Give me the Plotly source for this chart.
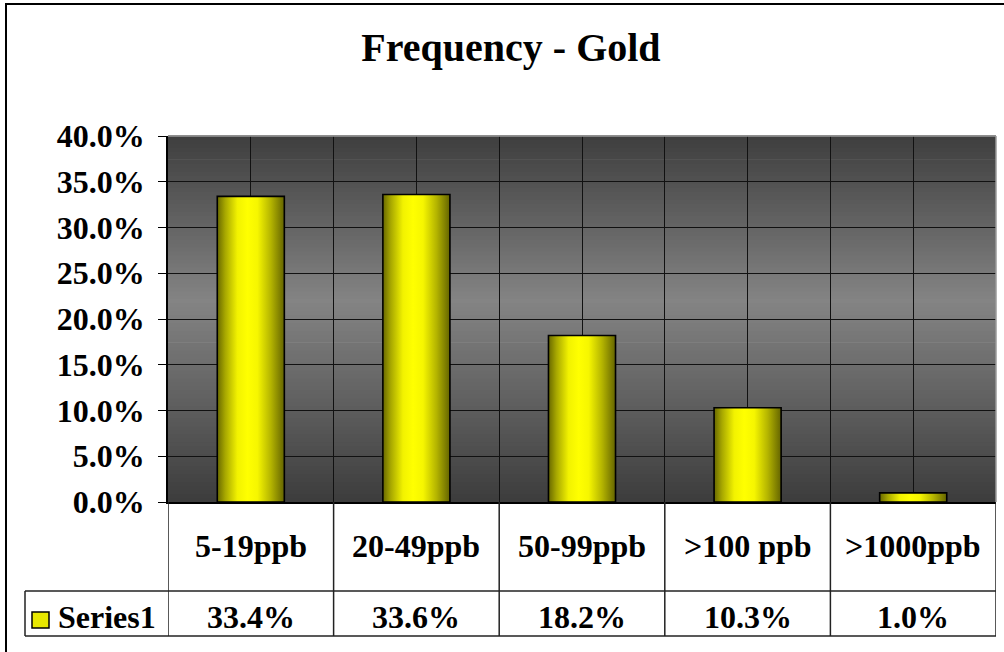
import plotly.graph_objects as go

# Frequency distribution of gold assays by grade class
categories = ["5-19ppb", "20-49ppb", "50-99ppb", ">100 ppb", ">1000ppb"]
values_pct = [33.4, 33.6, 18.2, 10.3, 1.0]
series_name = "Series1"
title_text = "Frequency - Gold"

FONT = "'Liberation Serif', 'DejaVu Serif', 'Times New Roman', serif"
W, H = 1004, 652
L, R, T, B = 168, 996, 136, 502   # plot area edges in pixels


def px(x):
    return (x - L) / (R - L)


def py(y):
    return (B - y) / (B - T)


fig = go.Figure()

# bars: filled polygons with a horizontal metallic gradient
bar_half = 0.2025
bar_scale = [[0.0, "#686800"], [0.12, "#a8a800"], [0.3, "#f2f200"],
             [0.45, "#ffff00"], [0.6, "#f6f600"], [0.8, "#b4b400"],
             [1.0, "#646400"]]
for i, v in enumerate(values_pct):
    h = v / 100.0
    fig.add_trace(go.Scatter(
        x=[i - bar_half, i + bar_half, i + bar_half, i - bar_half, i - bar_half],
        y=[0, 0, h, h, 0],
        mode="lines", fill="toself",
        fillgradient=dict(type="horizontal", colorscale=bar_scale),
        line=dict(color="black", width=1.6),
        showlegend=False, hoverinfo="skip",
    ))

shapes = []

# plot area background: vertical grey gradient built from thin bands
stops = [(0.0, 60), (0.55, 132), (1.0, 62)]


def grey_at(f):
    for (f0, g0), (f1, g1) in zip(stops[:-1], stops[1:]):
        if f0 <= f <= f1:
            t = (f - f0) / (f1 - f0)
            return round(g0 + (g1 - g0) * t)
    return stops[-1][1]


nb = 92
for k in range(nb):
    f0, f1 = k / nb, (k + 1) / nb
    g = grey_at((f0 + f1) / 2)
    shapes.append(dict(type="rect", xref="paper", yref="paper",
                       x0=0, x1=1, y0=f0, y1=f1 + 0.002, layer="below",
                       line=dict(width=0), fillcolor=f"rgb({g},{g},{g})"))

# light border on top/right of plot area
shapes.append(dict(type="line", xref="paper", yref="paper", x0=0, x1=1, y0=1, y1=1,
                   line=dict(color="#9a9a9a", width=1.5), layer="above"))
shapes.append(dict(type="line", xref="paper", yref="paper", x0=1, x1=1, y0=0, y1=1,
                   line=dict(color="#9a9a9a", width=1.5), layer="above"))

# data table grid
tbl_line = dict(color="#222222", width=1.5)
row1_y = py(591)
row2_y = py(636)
left_x = px(25)
for yy in (row1_y, row2_y):
    shapes.append(dict(type="line", xref="paper", yref="paper",
                       x0=left_x, x1=1, y0=yy, y1=yy, line=tbl_line))
shapes.append(dict(type="line", xref="paper", yref="paper",
                   x0=left_x, x1=left_x, y0=row1_y, y1=row2_y, line=tbl_line))
for b in range(len(categories) + 1):
    shapes.append(dict(type="line", xref="x", yref="paper",
                       x0=b - 0.5, x1=b - 0.5, y0=0, y1=row2_y, line=tbl_line))

# legend key in table
shapes.append(dict(type="rect", xref="paper", yref="paper",
                   x0=px(32), x1=px(49), y0=py(628), y1=py(612),
                   fillcolor="#e8e800", line=dict(color="black", width=1.5)))

# outer chart border
shapes.append(dict(type="rect", xref="paper", yref="paper",
                   x0=px(6), x1=px(1012), y0=py(660), y1=py(4),
                   line=dict(color="black", width=2)))

annotations = []
tfont = dict(family=FONT, size=32, color="black", weight="bold")
for i, c in enumerate(categories):
    annotations.append(dict(x=i, xref="x", y=py(546), yref="paper", text=c,
                            showarrow=False, font=tfont,
                            xanchor="center", yanchor="middle"))
for i, v in enumerate(values_pct):
    annotations.append(dict(x=i, xref="x", y=py(617), yref="paper", text=f"{v:.1f}%",
                            showarrow=False, font=tfont,
                            xanchor="center", yanchor="middle"))
annotations.append(dict(x=px(56), xref="paper", y=py(617), yref="paper", text=series_name,
                        showarrow=False, font=tfont, xanchor="left", yanchor="middle"))

fig.update_layout(
    width=W, height=H,
    margin=dict(l=L, r=W - R, t=T, b=H - B, pad=0),
    paper_bgcolor="white",
    plot_bgcolor="rgba(0,0,0,0)",
    title=dict(text=title_text, xref="container", yref="container",
               x=511 / W, y=1 - 47 / H, xanchor="center", yanchor="middle",
               font=dict(family=FONT, size=40, color="black", weight="bold")),
    xaxis=dict(range=[-0.5, len(categories) - 0.5], showticklabels=False,
               tick0=-0.5, dtick=0.5, showgrid=True, gridcolor="#111111", gridwidth=1,
               zeroline=False, showline=True, linecolor="black", linewidth=1.5,
               ticks="", fixedrange=True),
    yaxis=dict(range=[0, 0.4], tick0=0, dtick=0.05, tickformat=".1%",
               showgrid=True, gridcolor="#111111", gridwidth=1, zeroline=False,
               showline=True, linecolor="black", linewidth=1.5,
               ticks="outside", ticklen=8, tickcolor="black", tickwidth=1.2,
               ticklabelstandoff=7,
               tickfont=dict(family=FONT, size=32, color="black", weight="bold"),
               fixedrange=True),
    shapes=shapes,
    annotations=annotations,
    showlegend=False,
)

fig.write_html("out.html")
